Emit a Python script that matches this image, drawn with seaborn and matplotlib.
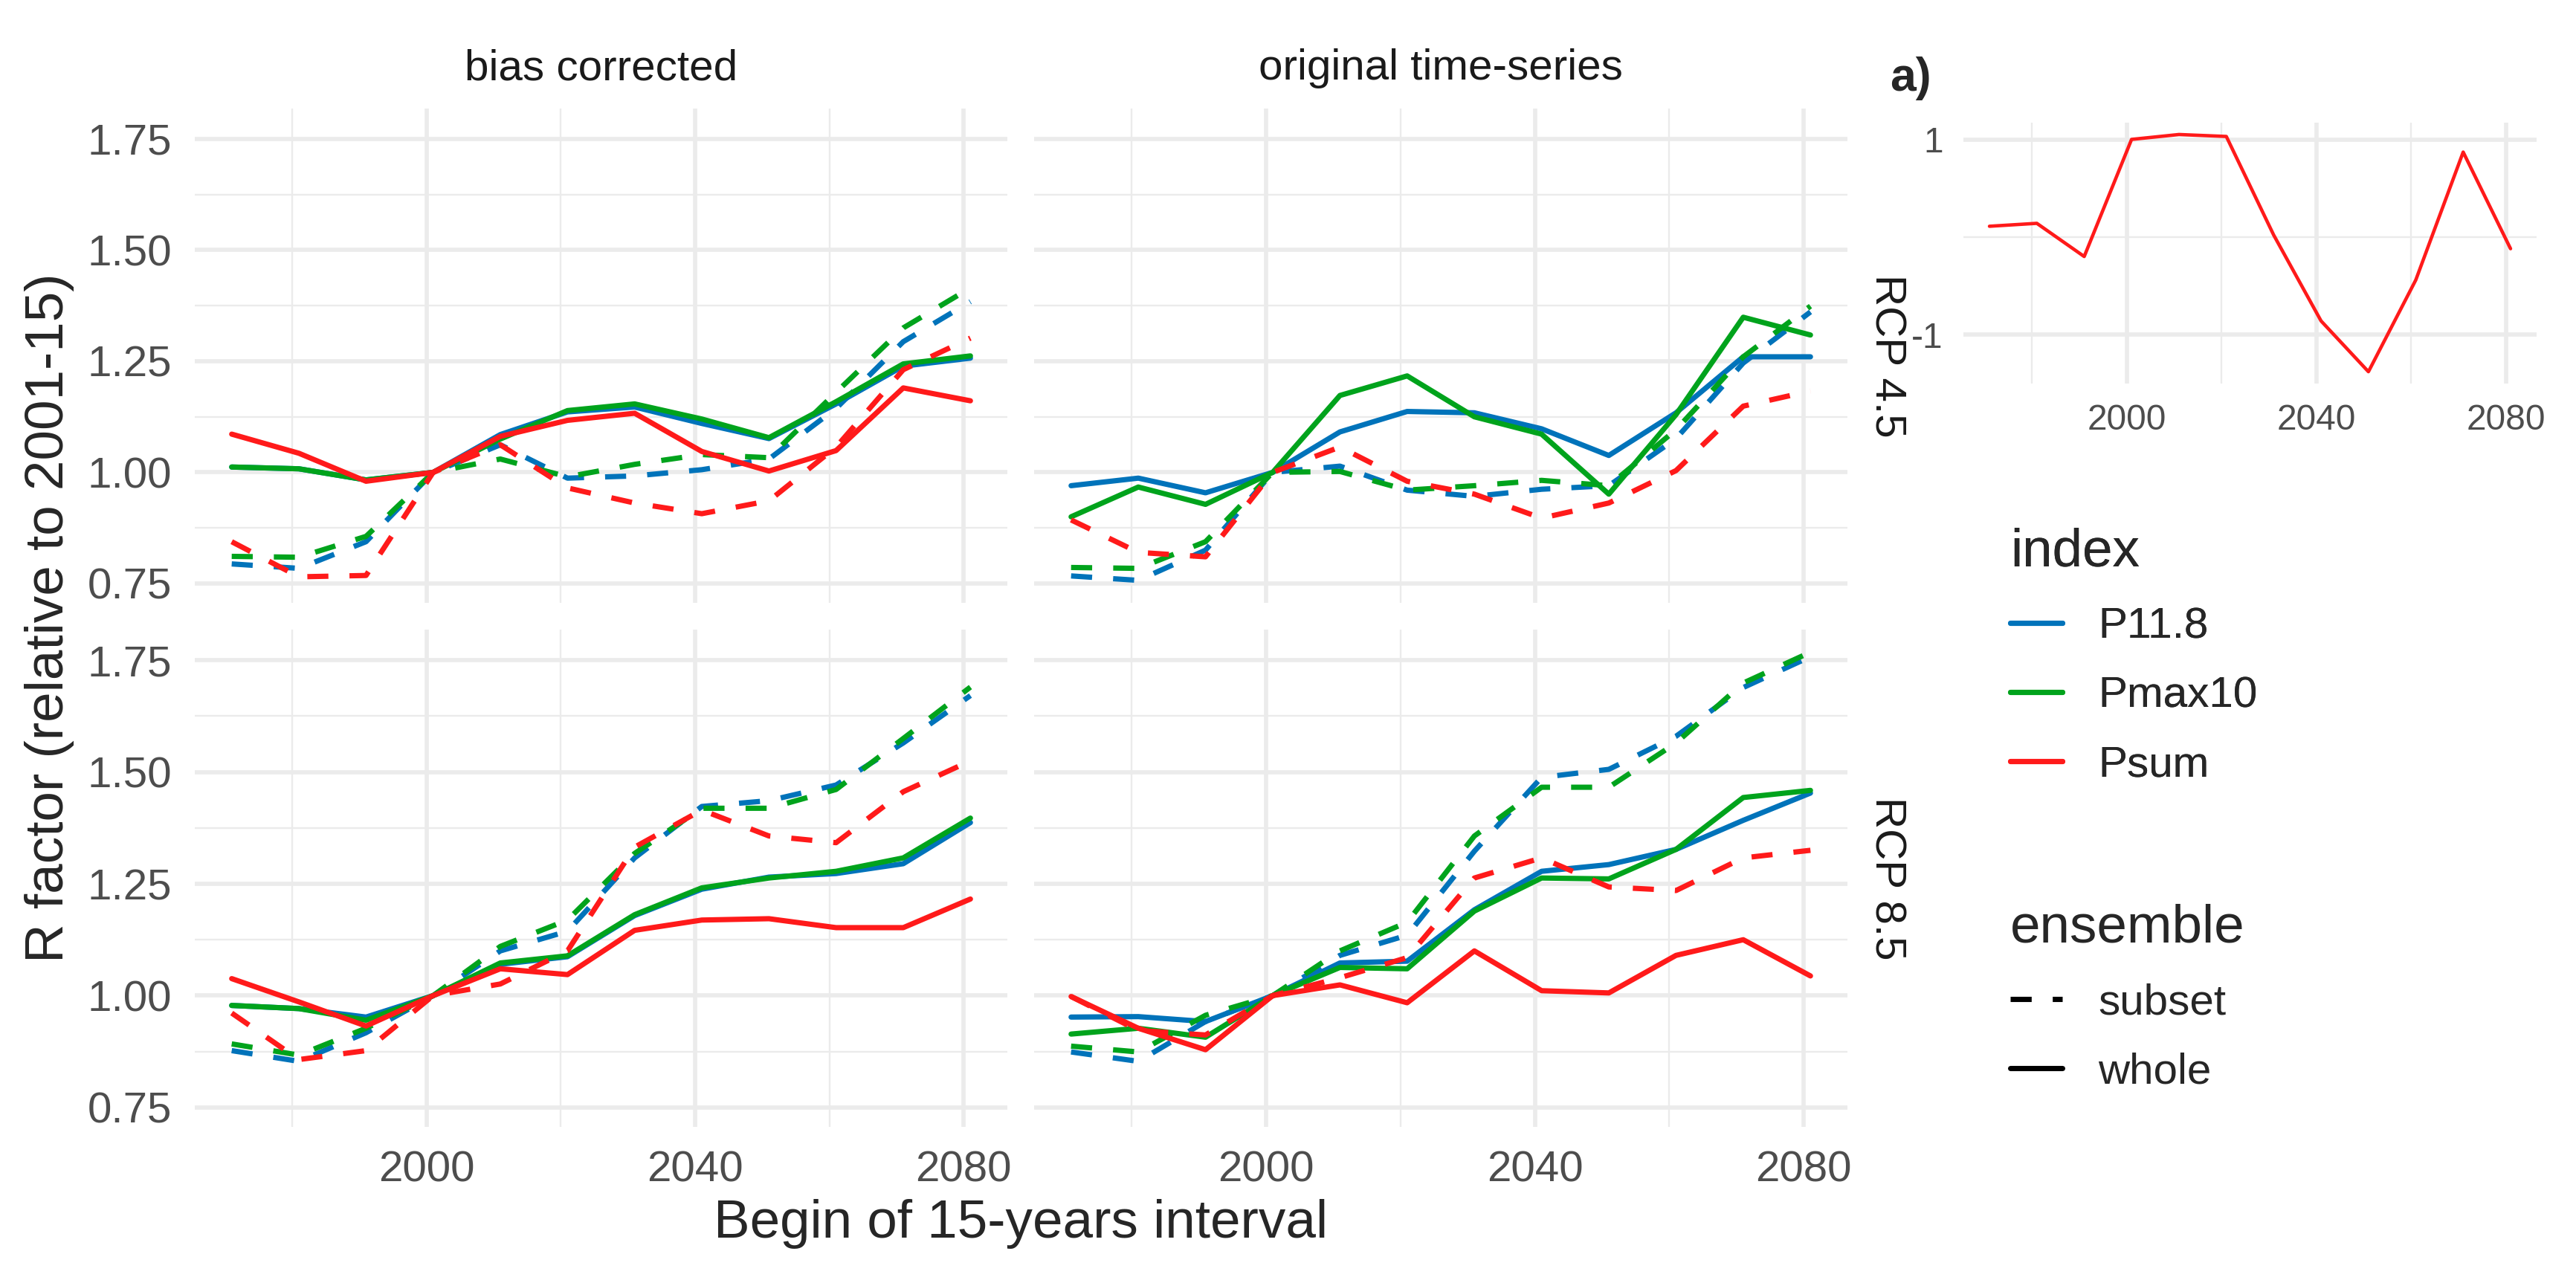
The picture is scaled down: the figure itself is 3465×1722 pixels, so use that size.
import matplotlib
matplotlib.use("Agg")
import matplotlib.pyplot as plt
from matplotlib.lines import Line2D
from matplotlib.ticker import FixedLocator
import seaborn as sns
import pandas as pd

# begin of each 15-year interval
years = [1971, 1981, 1991, 2001, 2011, 2021, 2031, 2041, 2051, 2061, 2071, 2081]

index_order = ["P11.8", "Pmax10", "Psum"]
ensemble_order = ["subset", "whole"]
corrections = ["bias corrected", "original time-series"]
scenarios = ["RCP 4.5", "RCP 8.5"]

# bias corrected, RCP 4.5
bc45_p118_whole = [1.012, 1.008, 0.983, 1.0, 1.085, 1.136, 1.147, 1.110, 1.076, 1.154, 1.239, 1.257]
bc45_pmax_whole = [1.012, 1.008, 0.983, 1.0, 1.075, 1.139, 1.154, 1.120, 1.078, 1.159, 1.244, 1.262]
bc45_psum_whole = [1.086, 1.043, 0.980, 1.0, 1.081, 1.117, 1.133, 1.047, 1.003, 1.049, 1.190, 1.161]
bc45_p118_subset = [0.794, 0.784, 0.844, 1.0, 1.062, 0.987, 0.992, 1.006, 1.030, 1.144, 1.294, 1.384]
bc45_pmax_subset = [0.811, 0.809, 0.856, 1.0, 1.030, 0.990, 1.018, 1.040, 1.033, 1.180, 1.325, 1.415]
bc45_psum_subset = [0.844, 0.765, 0.768, 1.0, 1.062, 0.965, 0.931, 0.907, 0.936, 1.057, 1.231, 1.302]

# original time-series, RCP 4.5 (no Psum for the whole ensemble)
or45_p118_whole = [0.970, 0.987, 0.954, 1.0, 1.091, 1.137, 1.134, 1.098, 1.038, 1.134, 1.260, 1.260]
or45_pmax_whole = [0.900, 0.967, 0.928, 1.0, 1.173, 1.217, 1.125, 1.086, 0.951, 1.130, 1.349, 1.309]
or45_p118_subset = [0.767, 0.757, 0.825, 1.0, 1.014, 0.960, 0.946, 0.962, 0.970, 1.076, 1.246, 1.361]
or45_pmax_subset = [0.786, 0.784, 0.844, 1.0, 1.002, 0.960, 0.970, 0.982, 0.970, 1.096, 1.260, 1.374]
or45_psum_subset = [0.893, 0.820, 0.810, 1.0, 1.057, 0.980, 0.951, 0.897, 0.931, 1.004, 1.149, 1.183]

# bias corrected, RCP 8.5
bc85_p118_whole = [0.978, 0.971, 0.952, 1.0, 1.070, 1.087, 1.179, 1.238, 1.265, 1.273, 1.295, 1.387]
bc85_pmax_whole = [0.978, 0.971, 0.945, 1.0, 1.073, 1.089, 1.181, 1.241, 1.263, 1.278, 1.308, 1.397]
bc85_psum_whole = [1.038, 0.986, 0.932, 1.0, 1.060, 1.047, 1.146, 1.169, 1.172, 1.152, 1.152, 1.216]
bc85_p118_subset = [0.877, 0.853, 0.917, 1.0, 1.100, 1.144, 1.308, 1.423, 1.436, 1.471, 1.565, 1.671]
bc85_pmax_subset = [0.892, 0.867, 0.927, 1.0, 1.110, 1.169, 1.318, 1.419, 1.419, 1.461, 1.575, 1.690]
bc85_psum_subset = [0.961, 0.857, 0.877, 1.0, 1.026, 1.100, 1.332, 1.415, 1.357, 1.342, 1.456, 1.525]

# original time-series, RCP 8.5
or85_p118_whole = [0.952, 0.953, 0.942, 1.0, 1.073, 1.077, 1.192, 1.278, 1.293, 1.327, 1.392, 1.453]
or85_pmax_whole = [0.914, 0.927, 0.907, 1.0, 1.063, 1.060, 1.189, 1.263, 1.261, 1.327, 1.443, 1.459]
or85_psum_whole = [0.998, 0.927, 0.879, 1.0, 1.024, 0.984, 1.100, 1.011, 1.006, 1.090, 1.125, 1.044]
or85_p118_subset = [0.874, 0.853, 0.942, 1.0, 1.090, 1.135, 1.323, 1.488, 1.506, 1.580, 1.689, 1.758]
or85_pmax_subset = [0.887, 0.874, 0.956, 1.0, 1.100, 1.164, 1.357, 1.466, 1.466, 1.565, 1.699, 1.768]
or85_psum_subset = [0.998, 0.922, 0.912, 1.0, 1.040, 1.085, 1.263, 1.308, 1.243, 1.235, 1.308, 1.325]

# small panel a)
inset_vals = [0.11, 0.14, -0.20, 1.00, 1.05, 1.03, 0.02, -0.86, -1.38, -0.44, 0.87, -0.12]

series = [
    ("bias corrected", "RCP 4.5", "P11.8", "whole", bc45_p118_whole),
    ("bias corrected", "RCP 4.5", "Pmax10", "whole", bc45_pmax_whole),
    ("bias corrected", "RCP 4.5", "Psum", "whole", bc45_psum_whole),
    ("bias corrected", "RCP 4.5", "P11.8", "subset", bc45_p118_subset),
    ("bias corrected", "RCP 4.5", "Pmax10", "subset", bc45_pmax_subset),
    ("bias corrected", "RCP 4.5", "Psum", "subset", bc45_psum_subset),
    ("original time-series", "RCP 4.5", "P11.8", "whole", or45_p118_whole),
    ("original time-series", "RCP 4.5", "Pmax10", "whole", or45_pmax_whole),
    ("original time-series", "RCP 4.5", "P11.8", "subset", or45_p118_subset),
    ("original time-series", "RCP 4.5", "Pmax10", "subset", or45_pmax_subset),
    ("original time-series", "RCP 4.5", "Psum", "subset", or45_psum_subset),
    ("bias corrected", "RCP 8.5", "P11.8", "whole", bc85_p118_whole),
    ("bias corrected", "RCP 8.5", "Pmax10", "whole", bc85_pmax_whole),
    ("bias corrected", "RCP 8.5", "Psum", "whole", bc85_psum_whole),
    ("bias corrected", "RCP 8.5", "P11.8", "subset", bc85_p118_subset),
    ("bias corrected", "RCP 8.5", "Pmax10", "subset", bc85_pmax_subset),
    ("bias corrected", "RCP 8.5", "Psum", "subset", bc85_psum_subset),
    ("original time-series", "RCP 8.5", "P11.8", "whole", or85_p118_whole),
    ("original time-series", "RCP 8.5", "Pmax10", "whole", or85_pmax_whole),
    ("original time-series", "RCP 8.5", "Psum", "whole", or85_psum_whole),
    ("original time-series", "RCP 8.5", "P11.8", "subset", or85_p118_subset),
    ("original time-series", "RCP 8.5", "Pmax10", "subset", or85_pmax_subset),
    ("original time-series", "RCP 8.5", "Psum", "subset", or85_psum_subset),
]

rows = []
for corr, rcp, idx, ens, vals in series:
    for yr, v in zip(years, vals):
        rows.append({"correction": corr, "scenario": rcp, "index": idx,
                     "ensemble": ens, "year": yr, "R": v})
df = pd.DataFrame(rows)

palette = {"P11.8": "#0073BA", "Pmax10": "#00A31C", "Psum": "#FF1A1A"}
dash_map = {"subset": (4, 4), "whole": ""}
LW = 1.7
GRID = "#EBEBEB"
TICK_COL = "#4D4D4D"

sns.set_theme(style="white")
plt.rcParams["font.family"] = ["Liberation Sans", "DejaVu Sans"]

W, H = 3465, 1722
fig = plt.figure(figsize=(W / 300, H / 300), dpi=300)


def px_box(x0, y0, x1, y1):
    return [x0 / W, 1 - y1 / H, (x1 - x0) / W, (y1 - y0) / H]


def style_axes(ax, xmajor, xminor, ymajor, yminor, fs):
    ax.xaxis.set_major_locator(FixedLocator(xmajor))
    ax.xaxis.set_minor_locator(FixedLocator(xminor))
    ax.yaxis.set_major_locator(FixedLocator(ymajor))
    ax.yaxis.set_minor_locator(FixedLocator(yminor))
    ax.grid(which="major", color=GRID, lw=1.36)
    ax.grid(which="minor", color=GRID, lw=0.56)
    ax.set_axisbelow(True)
    ax.tick_params(which="both", length=0, labelsize=fs, labelcolor=TICK_COL, pad=7.5)
    for s in ax.spines.values():
        s.set_visible(False)
    ax.set_xlabel("")
    ax.set_ylabel("")


panel_boxes = {
    ("bias corrected", "RCP 4.5"): (262, 146, 1355, 811),
    ("original time-series", "RCP 4.5"): (1391, 146, 2485, 811),
    ("bias corrected", "RCP 8.5"): (262, 847, 1355, 1516),
    ("original time-series", "RCP 8.5"): (1391, 847, 2485, 1516),
}

ylo, yhi = df["R"].min(), df["R"].max()
ypad = 0.05 * (yhi - ylo)
xpad = 0.05 * (max(years) - min(years))

for (corr, rcp), box in panel_boxes.items():
    ax = fig.add_axes(px_box(*box))
    sub = df[(df["correction"] == corr) & (df["scenario"] == rcp)]
    sns.lineplot(data=sub, x="year", y="R", hue="index", style="ensemble",
                 hue_order=index_order, style_order=ensemble_order,
                 palette=palette, dashes=dash_map, linewidth=LW,
                 estimator=None, legend=False, ax=ax)
    ax.set_xlim(min(years) - xpad, max(years) + xpad)
    ax.set_ylim(ylo - ypad, yhi + ypad)
    style_axes(ax, [2000, 2040, 2080], [1980, 2020, 2060],
               [0.75, 1.0, 1.25, 1.5, 1.75], [0.875, 1.125, 1.375, 1.625], 14)
    ax.yaxis.set_major_formatter(plt.FuncFormatter(lambda v, p: f"{v:.2f}"))
    if corr != corrections[0]:
        ax.tick_params(labelleft=False)
    if rcp != scenarios[1]:
        ax.tick_params(labelbottom=False)
    ph = box[3] - box[1]
    pw = box[2] - box[0]
    if rcp == scenarios[0]:
        ax.text(0.5, 1 + (box[1] - 92) / ph, corr, transform=ax.transAxes,
                ha="center", va="center", fontsize=14, color="#1A1A1A")
    if corr == corrections[1]:
        ax.text(1 + (2537 - box[2]) / pw, 0.5, rcp, transform=ax.transAxes,
                ha="center", va="center", rotation=-90, fontsize=14, color="#1A1A1A")

fig.text(67 / W, 1 - 831 / H, "R factor (relative to 2001-15)", rotation=90,
         ha="center", va="center", fontsize=17.5)
fig.text(1373 / W, 1 - 1647 / H, "Begin of 15-years interval",
         ha="center", va="center", fontsize=17.5)

# panel a)
axi = fig.add_axes(px_box(2641, 165, 3412, 516))
sns.lineplot(x=years, y=inset_vals, color=palette["Psum"], linewidth=1.1, ax=axi)
axi.margins(x=0.05, y=0.05)
style_axes(axi, [2000, 2040, 2080], [1980, 2020, 2060], [-1, 1], [0], 11.5)
axi.yaxis.set_major_formatter(plt.FuncFormatter(lambda v, p: f"{v:.0f}".replace("\u2212", "-")))
axi.tick_params(pad=6.5)
fig.text(2542 / W, 1 - 122 / H, "a)", ha="left", va="baseline",
         fontsize=15, fontweight="bold")

# legends
idx_handles = [Line2D([], [], color=palette[k], lw=LW) for k in index_order]
ens_handles = [Line2D([], [], color="black", lw=LW, dashes=dash_map["subset"]),
               Line2D([], [], color="black", lw=LW)]
common = dict(loc="upper left", frameon=False, fontsize=14, title_fontsize=17.5,
              handlelength=1.2, handletextpad=0.83, labelspacing=0.67,
              borderpad=0, borderaxespad=0, alignment="left")
leg1 = fig.legend(handles=idx_handles, labels=index_order, title="index",
                  bbox_to_anchor=(2704 / W, 1 - 710 / H), **common)
fig.add_artist(leg1)
fig.legend(handles=ens_handles, labels=ensemble_order, title="ensemble",
           bbox_to_anchor=(2704 / W, 1 - 1216 / H), **common)

fig.savefig("out.png", dpi=300, facecolor="white")
